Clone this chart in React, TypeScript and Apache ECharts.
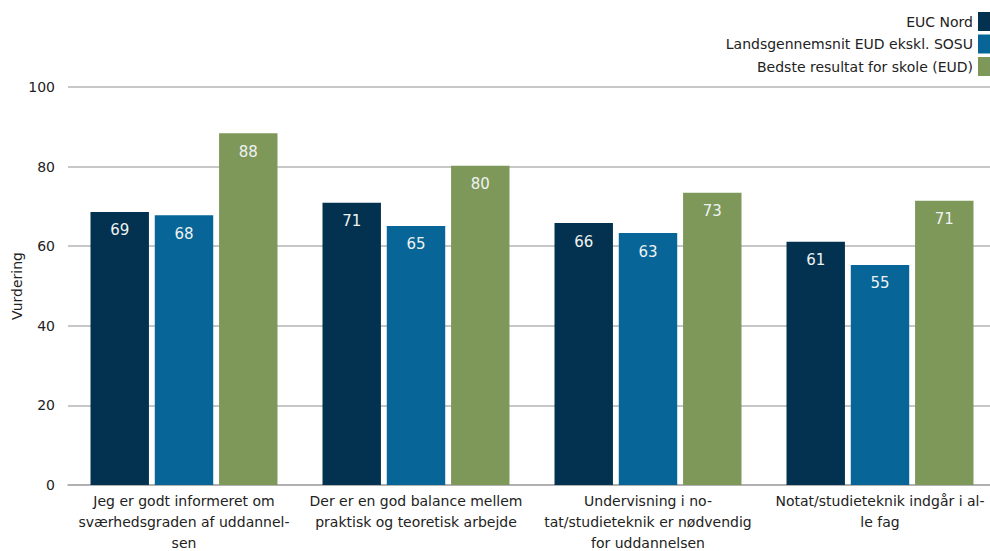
import React, { useEffect, useRef } from "react";
import * as echarts from "echarts";

const categories = [
  "Jeg er godt informeret om\nsværhedsgraden af uddannel-\nsen",
  "Der er en god balance mellem\npraktisk og teoretisk arbejde",
  "Undervisning i no-\ntat/studieteknik er nødvendig\nfor uddannelsen",
  "Notat/studieteknik indgår i al-\nle fag",
];
const seriesNames = [
  "EUC Nord",
  "Landsgennemsnit EUD ekskl. SOSU",
  "Bedste resultat for skole (EUD)",
];
const eucNord = [68.6, 70.9, 65.8, 61.1];
const landsgennemsnit = [67.8, 65.1, 63.3, 55.3];
const bedste = [88.4, 80.2, 73.4, 71.4];
const yTicks = { min: 0, max: 100, interval: 20 };
const colors = ["#02324f", "#076597", "#7e9859"];

const FONT = "DejaVu Sans";

export default function App() {
  const ref = useRef<HTMLDivElement>(null);
  useEffect(() => {
    if (!ref.current) return;
    const chart = echarts.init(ref.current, undefined, { renderer: "svg" });
    const values = [eucNord, landsgennemsnit, bedste];
    chart.setOption({
      animation: false,
      textStyle: { fontFamily: FONT },
      legend: {
        orient: "vertical",
        right: 0,
        top: 12,
        padding: 0,
        align: "right",
        itemWidth: 12,
        itemHeight: 19,
        itemGap: 3.5,
        icon: "rect",
        textStyle: { fontFamily: FONT, fontSize: 14, color: "#222" },
        data: seriesNames,
      },
      grid: {
        left: 68,
        top: 87,
        width: 928,
        height: 398,
        containLabel: false,
        outerBoundsMode: "none",
      },
      xAxis: {
        type: "category",
        data: categories,
        axisTick: { show: false },
        axisLine: { lineStyle: { color: "#aaa", width: 1.5 } },
        axisLabel: {
          fontFamily: FONT,
          fontSize: 14,
          color: "#222",
          lineHeight: 21,
          margin: 5,
          interval: 0,
          align: "center",
        },
      },
      yAxis: {
        type: "value",
        min: yTicks.min,
        max: yTicks.max,
        interval: yTicks.interval,
        name: "Vurdering",
        nameLocation: "middle",
        nameGap: 44,
        nameRotate: 90,
        nameMoveOverlap: false,
        nameTextStyle: { fontFamily: FONT, fontSize: 14, color: "#222" },
        axisLine: { show: false },
        axisTick: { show: false },
        splitLine: { lineStyle: { color: "#b5b5b5", width: 1.5 } },
        axisLabel: { fontFamily: FONT, fontSize: 14, color: "#222", margin: 13 },
      },
      series: seriesNames.map((name, i) => ({
        name,
        type: "bar",
        data: values[i],
        itemStyle: { color: colors[i] },
        barCategoryGap: "19.4%",
        barGap: "10%",
        label: {
          show: true,
          position: "insideTop",
          distance: 11,
          color: "#eef2f2",
          fontFamily: FONT,
          fontSize: 15,
          formatter: (p: any) => String(Math.round(p.value)),
        },
      })),
    });
    return () => chart.dispose();
  }, []);
  return <div ref={ref} style={{ width: 990, height: 551, position: "absolute", left: 0, top: 0 }} />;
}
